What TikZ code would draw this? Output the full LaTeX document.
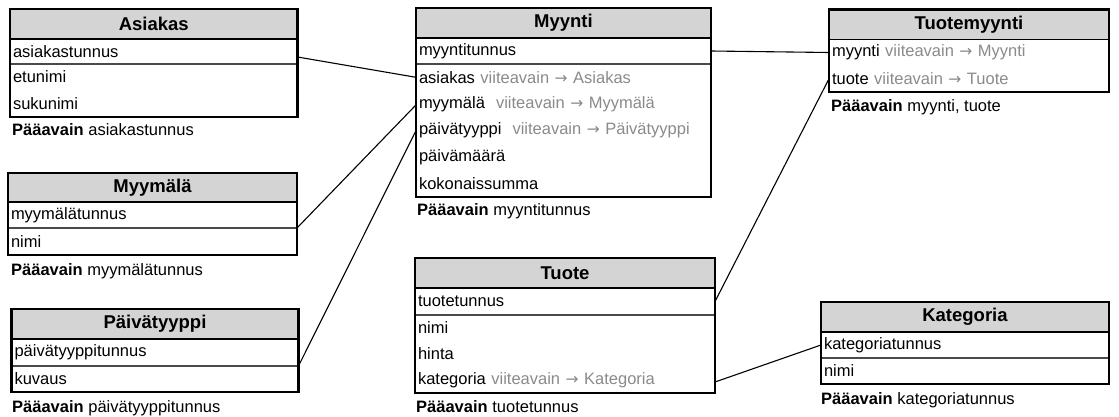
\documentclass[tikz,border=0pt]{standalone}
\usepackage{fontspec}
\setmainfont{Liberation Sans}
\newfontfamily\arrowfont{DejaVu Sans}
\usetikzlibrary{calc,fit}
\definecolor{headfill}{HTML}{D4D4D4}
\definecolor{fkgray}{HTML}{8A8A8A}
\definecolor{rulegray}{HTML}{4A4A4A}
\newcommand{\fkref}[1]{\textcolor{fkgray}{viiteavain {\arrowfont\fontsize{15.5}{19}\selectfont →} #1}}
\newcommand{\pkline}[1]{\textbf{Pääavain} #1}

\tikzset{
  cellbase/.style={anchor=north west, inner xsep=3pt, inner ysep=0pt, outer sep=0pt},
  head/.style={cellbase, fill=headfill, draw=black, line width=1.2pt, align=center,
    font=\fontsize{18.5}{22}\selectfont\bfseries},
  cell/.style={cellbase, align=left, font=\fontsize{16.5}{19}\selectfont},
  frame/.style={draw=black, line width=2.4pt, inner sep=0pt, fit=#1},
  keyrule/.style={draw=rulegray, line width=1.3pt},
  link/.style={draw=black, line width=1.1pt},
  pk/.style={anchor=west, inner sep=0pt, font=\fontsize{16.5}{19}\selectfont},
  % column widths of the tables (box width minus padding)
  wAs/.style={text width=281.5pt},
  wMm/.style={text width=283pt},
  wPt/.style={text width=281pt},
  wMy/.style={text width=289pt},
  wTu/.style={text width=294pt},
  wTm/.style={text width=274pt},
  wKa/.style={text width=282pt},
}

\begin{document}
\begin{tikzpicture}[x=1pt,y=-1pt]
\useasboundingbox (0,0) rectangle (1119,417);

% ---------- Asiakas ----------
\node[head, wAs, minimum height=30pt] (as0) at (10,9) {Asiakas};
\node[cell, wAs, minimum height=25pt] (as1) at (10,39) {asiakastunnus};
\node[cell, wAs, minimum height=26pt] (as2) at (10,64) {etunimi};
\node[cell, wAs, minimum height=27pt] (as3) at (10,90) {sukunimi};
\draw[keyrule] (as1.south west) -- (as1.south east);
\node[frame={(as0)(as3)}] (asiakas) {};
\node[pk] (as-pk) at (12,130) {\pkline{asiakastunnus}};

% ---------- Myymälä ----------
\node[head, wMm, minimum height=29pt] (mm0) at (8,173) {Myymälä};
\node[cell, wMm, minimum height=26pt] (mm1) at (8,202) {myymälätunnus};
\node[cell, wMm, minimum height=27pt] (mm2) at (8,228) {nimi};
\draw[keyrule] (mm1.south west) -- (mm1.south east);
\node[frame={(mm0)(mm2)}] (myymala) {};
\node[pk] (mm-pk) at (11,271) {\pkline{myymälätunnus}};

% ---------- Päivätyyppi ----------
\node[head, wPt, minimum height=30pt] (pt0) at (11.5,309) {Päivätyyppi};
\node[cell, wPt, minimum height=27pt] (pt1) at (11.5,339) {päivätyyppitunnus};
\node[cell, wPt, minimum height=26pt] (pt2) at (11.5,366) {kuvaus};
\draw[keyrule] (pt1.south west) -- (pt1.south east);
\node[frame={(pt0)(pt2)}] (paivatyyppi) {};
\node[pk] (pt-pk) at (12,408) {\pkline{päivätyyppitunnus}};

% ---------- Myynti ----------
\node[head, wMy, minimum height=30pt] (my0) at (416,8) {Myynti};
\node[cell, wMy, minimum height=26pt] (my1) at (416,38) {myyntitunnus};
\node[cell, wMy, minimum height=26.6pt] (my2) at (416,64) {asiakas \fkref{Asiakas}};
\node[cell, wMy, minimum height=26.6pt] (my3) at (416,90.6) {myymälä~ \fkref{Myymälä}};
\node[cell, wMy, minimum height=26.6pt] (my4) at (416,117.2) {päivätyyppi~ \fkref{Päivätyyppi}};
\node[cell, wMy, minimum height=26.6pt] (my5) at (416,143.8) {päivämäärä};
\node[cell, wMy, minimum height=26.6pt] (my6) at (416,170.4) {kokonaissumma};
\draw[keyrule] (my1.south west) -- (my1.south east);
\node[frame={(my0)(my6)}] (myynti) {};
\node[pk] (my-pk) at (417,211) {\pkline{myyntitunnus}};

% ---------- Tuote ----------
\node[head, wTu, minimum height=30pt] (tu0) at (415,258) {Tuote};
\node[cell, wTu, minimum height=27pt] (tu1) at (415,288) {tuotetunnus};
\node[cell, wTu, minimum height=26pt] (tu2) at (415,315) {nimi};
\node[cell, wTu, minimum height=26pt] (tu3) at (415,341) {hinta};
\node[cell, wTu, minimum height=26pt] (tu4) at (415,367) {kategoria \fkref{Kategoria}};
\draw[keyrule] (tu1.south west) -- (tu1.south east);
\node[frame={(tu0)(tu4)}] (tuote) {};
\node[pk] (tu-pk) at (416,407) {\pkline{tuotetunnus}};

% ---------- Tuotemyynti ----------
\node[head, wTm, minimum height=30pt] (tm0) at (829,9.5) {Tuotemyynti};
\node[cell, wTm, minimum height=26pt] (tm1) at (829,39.5) {myynti \fkref{Myynti}};
\node[cell, wTm, minimum height=26.5pt] (tm2) at (829,65.5) {tuote \fkref{Tuote}};
\node[frame={(tm0)(tm2)}] (tuotemyynti) {};
\node[pk] (tm-pk) at (831,107) {\pkline{myynti, tuote}};

% ---------- Kategoria ----------
\node[head, wKa, minimum height=30pt] (ka0) at (821,302) {Kategoria};
\node[cell, wKa, minimum height=26pt] (ka1) at (821,332) {kategoriatunnus};
\node[cell, wKa, minimum height=26pt] (ka2) at (821,358) {nimi};
\draw[keyrule] (ka1.south west) -- (ka1.south east);
\node[frame={(ka0)(ka2)}] (kategoria) {};
\node[pk] (ka-pk) at (821,400) {\pkline{kategoriatunnus}};

% ---------- foreign key links ----------
\draw[link] ($(as1.east)+(0,5.5)$) -- (my2.west);
\draw[link] (mm1.south east) -- ($(my3.west)+(0,1)$);
\draw[link] (pt1.south east) -- (my4.west);
\draw[link] (my1.east) -- (tm1.west);
\draw[link] (tu1.east) -- (tm2.west);
\draw[link] ($(tu4.east)+(0,2)$) -- (ka1.west);
\end{tikzpicture}
\end{document}
